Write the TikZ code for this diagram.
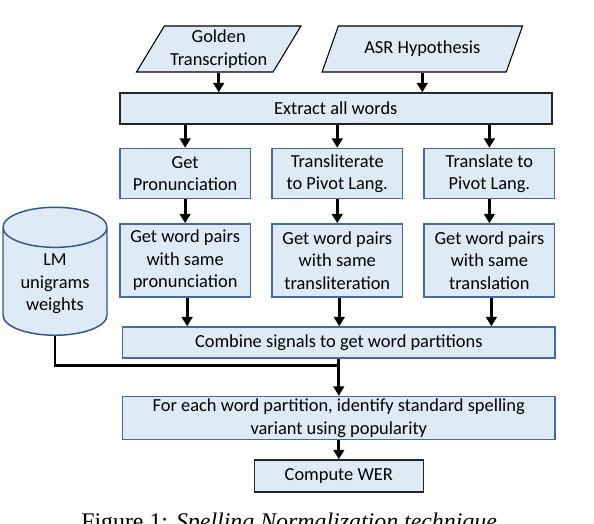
\documentclass[tikz,border=0pt]{standalone}
\usepackage{fontspec}
\setmainfont{Carlito}
\newfontfamily\capfont{Liberation Serif}
\usepackage{tikz}
\usepackage{xcolor}
\usetikzlibrary{positioning,arrows.meta,shapes.geometric,calc}
\definecolor{boxfill}{RGB}{222,235,247}
\definecolor{boxline}{RGB}{68,104,170}
\definecolor{dbline}{RGB}{47,85,151}

\begin{document}
\begin{tikzpicture}[x=0.75pt,y=-0.75pt,font=\fontsize{13.8}{16.9}\selectfont,node distance=17.25pt and 15pt]
  \tikzstyle{box}=[draw=boxline,line width=1.1pt,fill=boxfill,align=center,inner sep=1pt,minimum width=98pt]
  \tikzstyle{io}=[draw,line width=0.8pt,fill=boxfill,trapezium,trapezium left angle=58,trapezium right angle=122,trapezium stretches=true,align=center,inner sep=1pt,minimum height=34.5pt]
  \tikzstyle{arr}=[line width=2.2pt,-{Triangle[width=8pt,length=7pt]}]
  \useasboundingbox (0,0) rectangle (594,524);
  % Inputs
  \node[io,minimum width=123.5pt] (gt) at (218.7,49) {Golden\\Transcription};
  \node[io,minimum width=150.5pt] (asr) at (422.3,49) {ASR Hypothesis};
  \node[box,draw=black!85,minimum width=324pt,minimum height=23.25pt] (ex) at (335.8,108.5) {Extract all words};
  % Three signals
  \node[box,minimum height=37.5pt,below=17.25pt of ex.south west,anchor=north west] (pr) {Get\\Pronunciation};
  \node[box,minimum height=37.5pt,right=of pr] (tr) {Transliterate\\to Pivot Lang.};
  \node[box,minimum height=37.5pt,right=of tr] (tl) {Translate to\\Pivot Lang.};
  \node[box,minimum height=54.75pt,below=18pt of pr] (pp) {Get word pairs\\with same\\pronunciation};
  \node[box,minimum height=54.75pt,below=18pt of tr] (pt) {Get word pairs\\with same\\transliteration};
  \node[box,minimum height=54.75pt,below=18pt of tl] (pl) {Get word pairs\\with same\\translation};
  % Language model
  \node[cylinder,shape border rotate=90,aspect=0.56,draw=dbline,line width=1.1pt,fill=boxfill,align=center,minimum height=96pt,minimum width=78pt,inner sep=1pt,anchor=south] (lm) at (55,336) {LM\\unigrams\\weights};
  % Combine and normalise
  \node[box,minimum width=324.4pt,minimum height=23.25pt] (cb) at (338.8,342.5) {Combine signals to get word partitions};
  \node[box,minimum width=324.4pt,minimum height=32.25pt,below=27.75pt of cb] (fe) {For each word partition, identify standard spelling\\variant using popularity};
  \node[box,draw=black!85,minimum width=126.75pt,minimum height=24pt,below=14.25pt of fe] (wer) {Compute WER};
  \coordinate (join) at ($(cb.south)!0.19!(fe.north)$);
  % Edges
  \draw[arr] (gt.south) -- (gt.south |- ex.north);
  \draw[arr] (asr.south) -- (asr.south |- ex.north);
  \foreach \n in {pr,tr,tl}
    \draw[arr] (ex.south -| \n.north) -- (\n.north);
  \draw[arr] (pr) -- (pp);
  \draw[arr] (tr) -- (pt);
  \draw[arr] (tl) -- (pl);
  \foreach \n in {pp,pt,pl}
    \draw[arr] ($(\n.south)+(2,0)$) -- ($(\n.south |- cb.north)+(2,0)$);
  \draw[line width=2.2pt] (lm.south) |- (join);
  \draw[arr] (cb.south) -- (fe.north);
  \draw[arr] (fe.south -| wer.north) -- (wer.north);
  % Caption
  \node[anchor=base west,inner sep=0pt,font=\capfont\fontsize{17.9}{20}\selectfont] (cap) at (81,530) {Figure 1: \textit{Spelling Normalization technique}};
\end{tikzpicture}
\end{document}
